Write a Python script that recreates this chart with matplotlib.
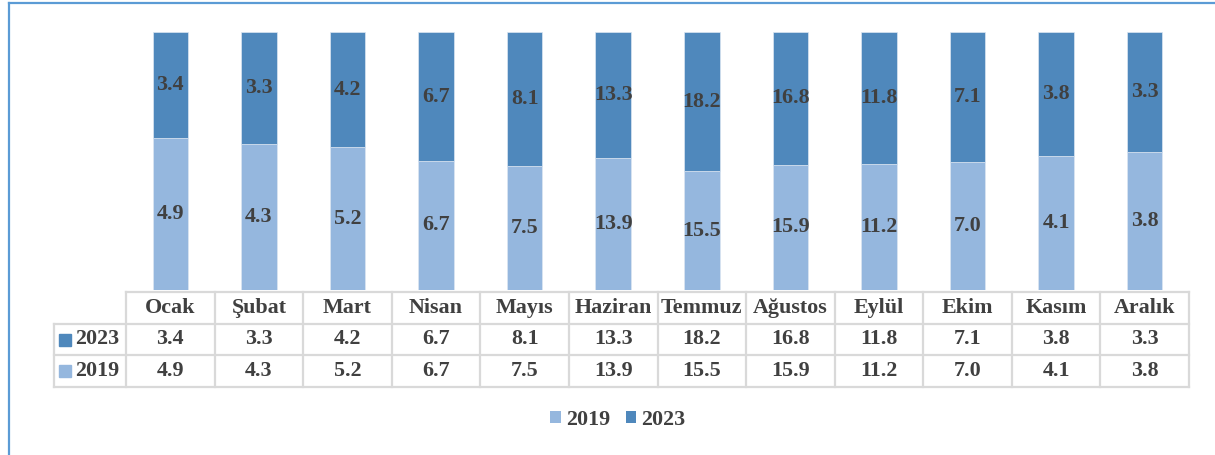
import matplotlib
matplotlib.use("Agg")
import matplotlib.pyplot as plt
from matplotlib.patches import Patch
from matplotlib.lines import Line2D
import numpy as np

months = ["Ocak", "Şubat", "Mart", "Nisan", "Mayıs", "Haziran", "Temmuz",
          "Ağustos", "Eylül", "Ekim", "Kasım", "Aralık"]
v2019 = [4.9, 4.3, 5.2, 6.7, 7.5, 13.9, 15.5, 15.9, 11.2, 7.0, 4.1, 3.8]
v2023 = [3.4, 3.3, 4.2, 6.7, 8.1, 13.3, 18.2, 16.8, 11.8, 7.1, 3.8, 3.3]

C19 = "#95B7DE"
C23 = "#4F88BC"
TXT = "#404040"
GRID = "#D9D9D9"
FONT = "Liberation Serif"
FS = 15.8

W, H = 1215, 455
plt.rcParams['font.family'] = [FONT, 'DejaVu Serif']
fig = plt.figure(figsize=(W / 100, H / 100), dpi=100)

# main bar axes
ax = fig.add_axes([126 / W, (H - 290) / H, (1189 - 126) / W, (290 - 32) / H])
x = np.arange(len(months))
a19 = np.array(v2019)
a23 = np.array(v2023)
tot = a19 + a23
p19 = a19 / tot * 100
p23 = a23 / tot * 100
ax.bar(x, p19, width=0.4, color=C19, edgecolor="#DCE6F2", linewidth=0.5)
ax.bar(x, p23, width=0.4, bottom=p19, color=C23, edgecolor="#DCE6F2", linewidth=0.5)
for i in range(len(months)):
    ax.text(x[i], p19[i] / 2, f"{v2019[i]:.1f}", ha="center", va="center",
            fontsize=FS, fontweight="bold", color=TXT)
    ax.text(x[i], p19[i] + p23[i] / 2, f"{v2023[i]:.1f}", ha="center", va="center",
            fontsize=FS, fontweight="bold", color=TXT)
ax.set_xlim(-0.5, len(months) - 0.5)
ax.set_ylim(0, 100)
ax.axis("off")

# data table axes
colw_px = (1189 - 126) / len(months)
lab_units = (126 - 54) / colw_px
tax = fig.add_axes([54 / W, (H - 387) / H, (1189 - 54) / W, (387 - 292) / H])
tax.set_xlim(-0.5 - lab_units, len(months) - 0.5)
tax.set_ylim(0, 3)
tax.axis("off")
left = -0.5 - lab_units
right = len(months) - 0.5
lw = 1.6
tax.plot([-0.5, right], [3, 3], color=GRID, lw=lw, clip_on=False)
for yy in [2, 1, 0]:
    tax.plot([left, right], [yy, yy], color=GRID, lw=lw, clip_on=False)
tax.plot([left, left], [0, 2], color=GRID, lw=lw, clip_on=False)
for k in range(len(months) + 1):
    tax.plot([k - 0.5, k - 0.5], [0, 3], color=GRID, lw=lw, clip_on=False)

for i, m in enumerate(months):
    tax.text(i, 2.5, m, ha="center", va="center", fontsize=FS, fontweight="bold", color=TXT)
    tax.text(i, 1.5, f"{v2023[i]:.1f}", ha="center", va="center", fontsize=FS, fontweight="bold", color=TXT)
    tax.text(i, 0.5, f"{v2019[i]:.1f}", ha="center", va="center", fontsize=FS, fontweight="bold", color=TXT)

for yy, lab, col in [(1.5, "2023", C23), (0.5, "2019", C19)]:
    tax.plot([left + 0.12], [yy], marker="s", markersize=8, color=col, clip_on=False)
    tax.text(left + 0.24, yy, lab, ha="left", va="center", fontsize=FS, fontweight="bold", color=TXT)

# legend
handles = [Patch(facecolor=C19, edgecolor="none", label="2019"),
           Patch(facecolor=C23, edgecolor="none", label="2023")]
leg = fig.legend(handles=handles, loc="center", bbox_to_anchor=(618 / W, 1 - 420 / H),
                 ncol=2, frameon=False, handlelength=0.47, handleheight=0.47,
                 handletextpad=0.25, columnspacing=0.7,
                 prop={"family": FONT, "weight": "bold", "size": FS})
for t in leg.get_texts():
    t.set_color(TXT)

# outer frame (partial)
fig.add_artist(Line2D([9 / W, 9 / W], [0, 1 - 2.5 / H], color="#5B9BD5", lw=1.6,
                      transform=fig.transFigure))
fig.add_artist(Line2D([9 / W, 1], [1 - 2.5 / H, 1 - 2.5 / H], color="#5B9BD5", lw=1.6,
                      transform=fig.transFigure))

fig.savefig("out.png", dpi=100, facecolor="white")
